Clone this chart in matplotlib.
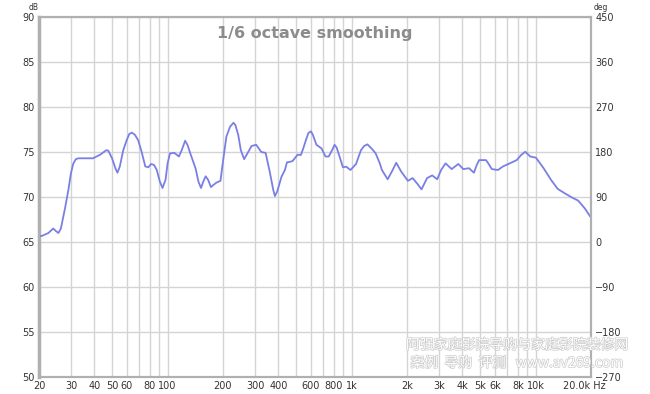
import matplotlib.pyplot as plt
import matplotlib.patheffects as pe
import matplotlib.transforms as mtransforms
from matplotlib.ticker import FixedLocator, FixedFormatter, NullLocator

# frequency response, 1/6 octave smoothed
freq = [20, 20.7, 22.5, 23.9, 24.6, 25.5, 26.3, 27.7, 28.9, 29.8, 30.7, 31.7, 32.7,
        35.6, 39.3, 43.0, 46.4, 47.6, 49.9, 52.0, 53.4, 55.0, 57.4, 59.9, 61.9,
        63.9, 66.5, 69.2, 72.3, 75.6, 78.5, 81.4, 84.5, 87.3, 90.8, 93.8, 97.4,
        100, 103, 108.9, 115.2, 119.3, 124.5, 128.2, 132.8, 141.8, 147.1, 151.9,
        156.2, 161, 166.1, 172, 177, 184.4, 193.8, 200.4, 208.6, 218.4, 228,
        233.5, 242, 250, 260.6, 268.6, 286, 303, 323, 341, 359, 375, 383, 394,
        416, 434, 445, 461, 478, 509, 530, 546, 564, 582, 601, 616, 644, 686,
        721, 751, 783, 808, 829, 849, 897, 935, 986, 1057, 1124, 1170, 1219,
        1296, 1351, 1423, 1461, 1570, 1652, 1748, 1863, 2023, 2146, 2270, 2398,
        2571, 2740, 2919, 3064, 3241, 3497, 3800, 4046, 4345, 4620, 4785, 4933,
        5375, 5530, 5780, 6241, 6652, 7243, 7891, 8348, 8785, 9348, 10040, 11050,
        12130, 13190, 14440, 15680, 17030, 18500, 20000]
spl = [65.67, 65.67, 66.0, 66.5, 66.25, 66.0, 66.5, 68.75, 70.8, 72.6, 73.7, 74.2, 74.3,
       74.3, 74.3, 74.7, 75.2, 75.15, 74.3, 73.2, 72.7, 73.4, 75.2, 76.3, 77.0,
       77.15, 76.9, 76.3, 75.0, 73.4, 73.3, 73.67, 73.55, 73.0, 71.7, 71.0, 71.9,
       73.74, 74.85, 74.9, 74.5, 75.2, 76.25, 75.8, 74.85, 73.2, 71.7, 71.0,
       71.7, 72.3, 71.9, 71.1, 71.33, 71.6, 71.8, 74.1, 76.7, 77.8, 78.25,
       78.0, 76.9, 75.2, 74.2, 74.67, 75.67, 75.8, 75.0, 74.9, 72.8, 70.8, 70.1, 70.6,
       72.26, 73.0, 73.85, 73.9, 74.0, 74.7, 74.67, 75.4, 76.3, 77.1, 77.3, 76.9, 75.8, 75.4,
       74.5, 74.5, 75.2, 75.8, 75.5, 74.85, 73.3, 73.37, 73.0, 73.67, 75.2, 75.67, 75.85,
       75.3, 74.85, 73.74, 73.0, 71.97, 72.8, 73.8, 72.8, 71.8, 72.1, 71.5, 70.85,
       72.1, 72.4, 71.97, 73.0, 73.74, 73.1, 73.67, 73.1, 73.2, 72.7, 73.55, 74.1,
       74.1, 73.74, 73.1, 73.0, 73.4, 73.74, 74.1, 74.67, 75.03, 74.5, 74.37, 73.2,
       71.9, 70.9, 70.4, 69.97, 69.6, 68.74, 67.7]

grid_freqs = [m * 10 ** e for e in range(1, 5) for m in range(1, 10)]
grid_freqs = [f for f in grid_freqs if 20 <= f <= 20000]
x_ticks = [20, 30, 40, 50, 60, 80, 100, 200, 300, 400, 600, 800, 1000,
           2000, 3000, 4000, 5000, 6000, 8000, 10000, 20000]
x_labels = ['20', '30', '40', '50', '60', '80', '100', '200', '300', '400', '600',
            '800', '1k', '2k', '3k', '4k', '5k', '6k', '8k', '10k', '20.0k Hz']
db_ticks = [50, 55, 60, 65, 70, 75, 80, 85, 90]
deg_ticks = [-270, -180, -90, 0, 90, 180, 270, 360, 450]

fig = plt.figure(figsize=(6.5, 3.94), dpi=100)
ax = fig.add_axes([39 / 650, 17 / 394, 552 / 650, 360 / 394])
ax.set_xscale('log')
ax.set_xlim(20, 20000)
ax.set_ylim(50, 90)

for f in grid_freqs:
    ax.axvline(f, color='#d4d4d4', lw=1, zorder=0)
for d in db_ticks:
    ax.axhline(d, color='#d4d4d4', lw=1, zorder=0)

ax.plot(freq, spl, color='#7a7fe6', lw=1.3, zorder=3,
        solid_joinstyle='round', solid_capstyle='round')

ax.xaxis.set_major_locator(FixedLocator(x_ticks))
ax.xaxis.set_major_formatter(FixedFormatter(x_labels))
ax.xaxis.set_minor_locator(NullLocator())
ax.set_yticks(db_ticks)
ax.tick_params(length=0, labelsize=7, colors='#333333', pad=3)
last = ax.get_xticklabels()[-1]
last.set_transform(last.get_transform() +
                   mtransforms.ScaledTranslation(-5 / 72, 0, fig.dpi_scale_trans))

ax2 = ax.twinx()
ax2.set_ylim(-270, 450)
ax2.set_yticks(deg_ticks)
ax2.tick_params(length=0, labelsize=7, colors='#333333', pad=3)

for a in (ax, ax2):
    for s in a.spines.values():
        s.set_color('#b0b0b0')
        s.set_linewidth(1.5)
ax.spines['left'].set_linewidth(2.5)

fig.text(29 / 650, 1 - 7 / 394, 'dB', fontsize=5.5, color='#333333', ha='left', va='center')
fig.text(594 / 650, 1 - 7 / 394, 'deg', fontsize=5.5, color='#333333', ha='left', va='center')

ax.text(0.5, 0.975, '1/6 octave smoothing', transform=ax.transAxes,
        ha='center', va='top', fontsize=11.5, fontweight='bold', color='#8c8c8c')

wm = dict(color='white', fontsize=10, family=['Noto Sans CJK SC', 'DejaVu Sans'],
          path_effects=[pe.withStroke(linewidth=1.0, foreground='#cccccc')], zorder=5)
fig.text(517 / 650, 1 - 345 / 394, '阿强家庭影院导购与家庭影院装修网', ha='center', va='center', **wm)
fig.text(517 / 650, 1 - 363 / 394, '案例  导购  评测   www.av269.com', ha='center', va='center', **wm)

fig.savefig('out.png', dpi=100)
